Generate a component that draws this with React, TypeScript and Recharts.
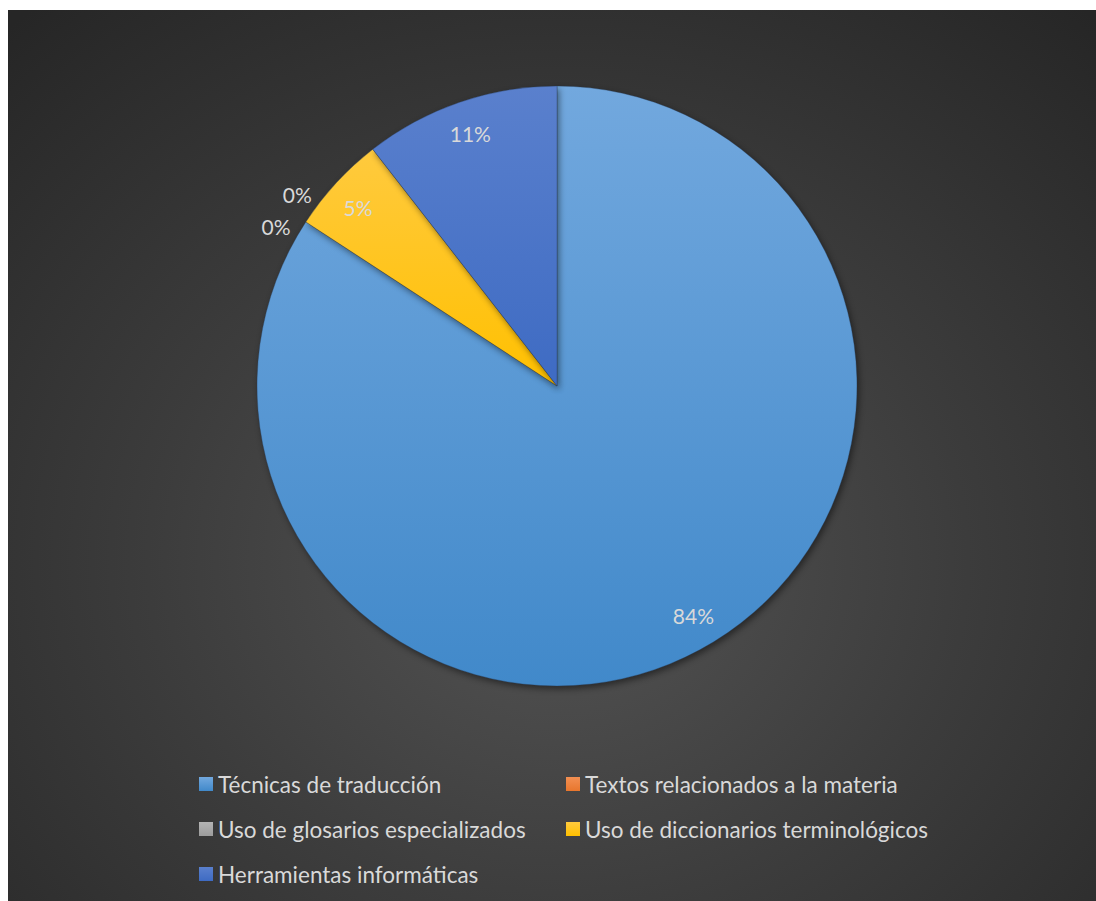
import { PieChart, Pie, Cell, Legend } from 'recharts'

const categorias = [
  'Técnicas de traducción',
  'Textos relacionados a la materia',
  'Uso de glosarios especializados',
  'Uso de diccionarios terminológicos',
  'Herramientas informáticas',
]
const respuestas = [16, 0, 0, 1, 2]
const coloresArriba = ['#72a8de', '#f28f52', '#b4b4b4', '#ffca3e', '#5a80cd']
const coloresAbajo = ['#4189ca', '#e8762d', '#9c9c9c', '#ffc000', '#3e6bc3']
// desplazamiento (grados, sentido horario) de cada etiqueta, como hace Excel con "mejor ajuste"
const desplazamientoEtiqueta = [-2.3, -3.6, 3.3, -0.8, 0]

const total = respuestas.reduce((a, b) => a + b, 0)
const datos = categorias.map((nombre, i) => ({ nombre, valor: respuestas[i] }))

const FUENTE = 'Lato, "Open Sans", sans-serif'
const RAD = Math.PI / 180

function Etiqueta(props: any) {
  const { cx, cy, midAngle, outerRadius, index, value } = props
  const esCero = value === 0
  const angulo = midAngle - desplazamientoEtiqueta[index]
  const r = esCero ? outerRadius + 23 : outerRadius * 0.89
  const x = cx + r * Math.cos(-angulo * RAD)
  const y = cy + r * Math.sin(-angulo * RAD)
  return (
    <text
      x={x}
      y={y}
      fill="#d9d9d9"
      fontSize={21}
      fontFamily={FUENTE}
      textAnchor="middle"
      dominantBaseline="central"
    >
      {`${Math.round((value / total) * 100)}%`}
    </text>
  )
}

function Leyenda({ payload }: any) {
  return (
    <div
      style={{
        display: 'grid',
        gridTemplateColumns: '367px 420px',
        rowGap: 21,
        paddingLeft: 191,
        fontFamily: FUENTE,
        fontSize: 22.5,
        color: '#d9d9d9',
      }}
    >
      {(payload || []).map((p: any, i: number) => (
        <div key={i} style={{ display: 'flex', alignItems: 'center', height: 24 }}>
          <span
            style={{
              width: 14,
              height: 14,
              marginRight: 5,
              flexShrink: 0,
              background: `linear-gradient(${coloresArriba[i]}, ${coloresAbajo[i]})`,
            }}
          />
          {p.value}
        </div>
      ))}
    </div>
  )
}

export default function App() {
  return (
    <div style={{ width: 1096, height: 901, position: 'relative' }}>
      <style>{`
        html { overflow: hidden; }
        body { margin: 0; }
        .recharts-pie-sector path { filter: drop-shadow(2px 3px 3px rgba(0,0,0,0.45)); }
      `}</style>
      <div
        style={{
          position: 'absolute',
          left: 8,
          top: 10,
          width: 1088,
          height: 891,
          background: 'radial-gradient(ellipse 1640px 1440px at 550px 552px, #545454 0%, #3c3c3c 25%, #262626 50%)',
        }}
      >
        <PieChart width={1088} height={891} margin={{ top: 0, right: 0, bottom: 0, left: 0 }}>
          <defs>
            {categorias.map((_, i) => (
              <linearGradient key={i} id={`grad${i}`} x1="0" y1="0" x2="0" y2="1">
                <stop offset="0%" stopColor={coloresArriba[i]} />
                <stop offset="100%" stopColor={coloresAbajo[i]} />
              </linearGradient>
            ))}
          </defs>
          <Pie
            data={datos}
            dataKey="valor"
            nameKey="nombre"
            cx={549}
            cy={376}
            outerRadius={300}
            startAngle={90}
            endAngle={-270}
            stroke="rgba(40,60,90,0.35)"
            strokeWidth={1}
            label={Etiqueta}
            labelLine={false}
            isAnimationActive={false}
          >
            {datos.map((_, i) => (
              <Cell key={i} fill={`url(#grad${i})`} />
            ))}
          </Pie>
          <Legend
            content={<Leyenda />}
            itemSorter={null}
            layout="vertical"
            wrapperStyle={{ top: 762, left: 0, width: 1088 }}
          />
        </PieChart>
      </div>
    </div>
  )
}
